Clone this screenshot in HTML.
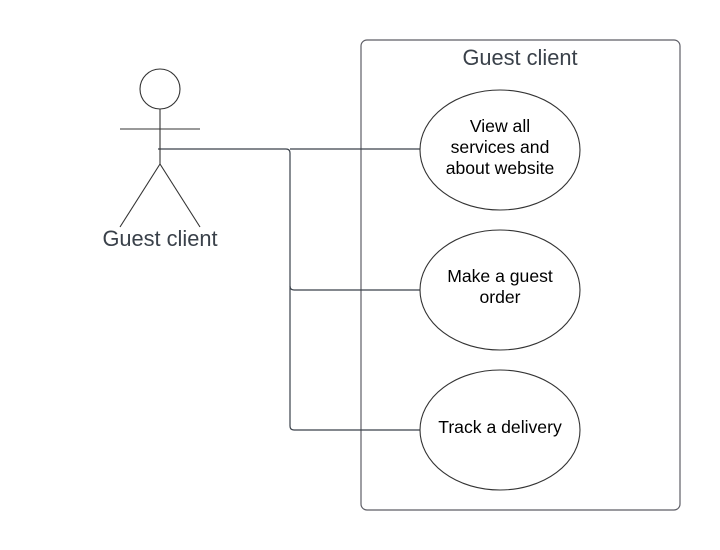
<!DOCTYPE html>
<html><head><meta charset="utf-8"><style>html,body{margin:0;padding:0;background:#fff;}svg{display:block}</style></head>
<body>
<svg width="720" height="550" viewBox="0 0 720 550" xmlns="http://www.w3.org/2000/svg">
<rect width="720" height="550" fill="#fff"/>
<rect x="361" y="40" width="319" height="470" rx="6" fill="none" stroke="#5e5e66" stroke-width="1.2"/>
<text x="520" y="65" text-anchor="middle" font-family="Liberation Sans, sans-serif" font-size="21.8" fill="#3a414a">Guest client</text>
<g fill="none" stroke="#3a414a" stroke-width="1.2">
<path d="M158 149 H286 Q290 149 290 153 V426 Q290 430 294 430 H420"/>
<path d="M290 149 H420"/>
<path d="M290 286 Q290 290 294 290 H420"/>
</g>
<g fill="#fff" stroke="#333" stroke-width="1.1">
<ellipse cx="500" cy="150" rx="80" ry="60"/>
<ellipse cx="500" cy="290" rx="80" ry="60"/>
<ellipse cx="500" cy="430" rx="80" ry="60"/>
</g>
<g font-family="Liberation Sans, sans-serif" font-size="17.6" fill="#000" text-anchor="middle">
<text x="500" y="132">View all</text>
<text x="500" y="153">services and</text>
<text x="500" y="174">about website</text>
<text x="500" y="282">Make a guest</text>
<text x="500" y="303">order</text>
<text x="500" y="433">Track a delivery</text>
</g>
<g fill="none" stroke="#333" stroke-width="1.1">
<circle cx="160" cy="89" r="20"/>
<line x1="160" y1="109" x2="160" y2="164"/>
<line x1="120" y1="129" x2="200" y2="129"/>
<line x1="160" y1="164" x2="120" y2="227"/>
<line x1="160" y1="164" x2="200" y2="227"/>
</g>
<text x="160" y="246" text-anchor="middle" font-family="Liberation Sans, sans-serif" font-size="21.8" fill="#3a414a">Guest client</text>
</svg>
</body></html>
